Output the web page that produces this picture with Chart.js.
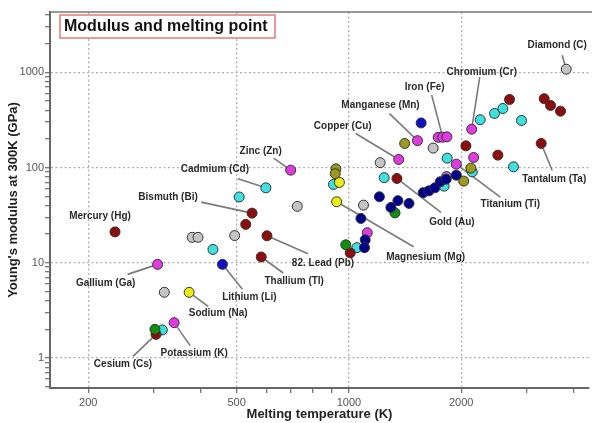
<!DOCTYPE html>
<html>
<head>
<meta charset="utf-8">
<style>
  html, body { margin: 0; padding: 0; background: #fff; }
  #wrap { width: 595px; height: 423px; }
</style>
</head>
<body>
<div id="wrap"><canvas id="chart" width="595" height="423"></canvas></div>
<script src="https://cdn.jsdelivr.net/npm/chart.js@4.4.1/dist/chart.umd.min.js"></script>
<script>
// melting point (K) against Young's modulus at 300K (GPa), one pair of arrays per marker colour
const redMelt    = [236, 550, 529, 603, 582, 304, 1008, 1345, 2059, 2508, 2695, 3338, 3471, 3692, 3277]
const redModulus = [21.1, 33.2, 25.3, 19.2, 11.5, 1.77, 12.7, 76.8, 169, 135, 518, 528, 449, 391, 179]

const grayMelt    = [3824, 727, 380, 394, 494, 320, 1094, 1213, 1682]
const grayModulus = [1078, 39.1, 18.5, 18.5, 19.3, 4.9, 40.3, 112.6, 160]

const cyanMelt    = [599, 508, 432, 316, 909, 1050, 1243, 1834, 1800, 2141, 2249, 2457, 2587, 2902, 2762]
const cyanModulus = [61.2, 49.1, 13.8, 1.97, 66.5, 14.4, 78.3, 125.5, 63.8, 90.1, 318, 370, 417, 312, 101.7]

const magentaMelt    = [698, 307, 340, 1120, 1360, 1527, 1735, 1784, 1831, 1940, 2160, 2134]
const magentaModulus = [93.9, 9.62, 2.35, 20.7, 121.6, 191.6, 207.5, 208.5, 210, 108.6, 127.6, 252.9]

const oliveMelt    = [923, 919, 1411, 2123, 2031]
const oliveModulus = [96.9, 86.3, 179, 98.6, 72]

const yellowMelt    = [373, 943, 927]
const yellowModulus = [4.89, 69.8, 43.7]

const greenMelt    = [302, 981, 1329]
const greenModulus = [2.0, 15.45, 33.4]

const navyMelt    = [1077, 1106, 1101, 1207, 1296, 1353, 1449, 1582, 1638, 1700, 1757, 1823, 1940]
const navyModulus = [29.2, 17.4, 14.4, 49.3, 38.1, 44.9, 42.0, 54.5, 56.9, 61.2, 70.8, 75.5, 83.2]

const blueMelt    = [458, 1562]
const blueModulus = [9.62, 294]

const lilacMelt    = [1827]
const lilacModulus = [80.3]

const xTicks = [200, 500, 1000, 2000]
const xMinor = [300, 400, 600, 700, 800, 900, 3000, 4000]
const yTicks = [1, 10, 100, 1000]
const yMinor = [0.5, 0.6, 0.7, 0.8, 0.9, 2, 3, 4, 5, 6, 7, 8, 9, 20, 30, 40, 50, 60, 70, 80, 90,
                200, 300, 400, 500, 600, 700, 800, 900, 2000, 3000, 4000]

// labelled elements: which marker they point at and where the text sits (px offset from the marker)
const callouts = [
  { text: 'Diamond (C)',    set: 'gray',    i: 0,  tx: -9,  ty: -24, lx: -4,  ly: -14 },
  { text: 'Chromium (Cr)',  set: 'magenta', i: 11, tx: 10,  ty: -57, lx: 8,   ly: -52 },
  { text: 'Iron (Fe)',      set: 'magenta', i: 7,  tx: -18, ty: -50, lx: -11, ly: -42 },
  { text: 'Manganese (Mn)', set: 'magenta', i: 5,  tx: -37, ty: -35, lx: -28, ly: -27 },
  { text: 'Copper (Cu)',    set: 'magenta', i: 4,  tx: -56, ty: -33, lx: -43, ly: -26 },
  { text: 'Zinc (Zn)',      set: 'magenta', i: 0,  tx: -30, ty: -19, lx: -17, ly: -12 },
  { text: 'Cadmium (Cd)',   set: 'cyan',    i: 0,  tx: -51, ty: -19, lx: -28, ly: -9 },
  { text: 'Bismuth (Bi)',   set: 'red',     i: 1,  tx: -84, ty: -16, lx: -51, ly: -11 },
  { text: 'Mercury (Hg)',   set: 'red',     i: 0,  tx: -15, ty: -16 },
  { text: '82. Lead (Pb)',  set: 'red',     i: 3,  tx: 56,  ty: 27,  lx: 41,  ly: 18 },
  { text: 'Thallium (Tl)',  set: 'red',     i: 4,  tx: 33,  ty: 24,  lx: 22,  ly: 16 },
  { text: 'Magnesium (Mg)', set: 'yellow',  i: 2,  tx: 89,  ty: 55,  lx: 77,  ly: 45 },
  { text: 'Gold (Au)',      set: 'red',     i: 7,  tx: 55,  ty: 44,  lx: 44,  ly: 34 },
  { text: 'Titanium (Ti)',  set: 'magenta', i: 9,  tx: 54,  ty: 40,  lx: 44,  ly: 33 },
  { text: 'Tantalum (Ta)',  set: 'red',     i: 14, tx: 13,  ty: 36,  lx: 11,  ly: 27 },
  { text: 'Gallium (Ga)',   set: 'magenta', i: 1,  tx: -52, ty: 19,  lx: -30, ly: 10 },
  { text: 'Lithium (Li)',   set: 'blue',    i: 0,  tx: 27,  ty: 33,  lx: 20,  ly: 25 },
  { text: 'Sodium (Na)',    set: 'yellow',  i: 0,  tx: 29,  ty: 21,  lx: 19,  ly: 14 },
  { text: 'Potassium (K)',  set: 'magenta', i: 2,  tx: 20,  ty: 31,  lx: 16,  ly: 23 },
  { text: 'Cesium (Cs)',    set: 'red',     i: 5,  tx: -33, ty: 30,  lx: -23, ly: 22 }
]

const FONT = "'Liberation Sans', Arial, sans-serif"

function pts(xs, ys) {
  return xs.map((x, i) => ({ x: x, y: ys[i] }))
}

// first entry ends up on top
const groups = [
  { key: 'blue',    color: '#1010c8', data: pts(blueMelt, blueModulus) },
  { key: 'navy',    color: '#00008a', data: pts(navyMelt, navyModulus) },
  { key: 'magenta', color: '#e03ae0', data: pts(magentaMelt, magentaModulus) },
  { key: 'lilac',   color: '#a878d8', data: pts(lilacMelt, lilacModulus) },
  { key: 'green',   color: '#0e900e', data: pts(greenMelt, greenModulus) },
  { key: 'red',     color: '#8e0c0c', data: pts(redMelt, redModulus) },
  { key: 'olive',   color: '#9c9a1c', data: pts(oliveMelt, oliveModulus) },
  { key: 'yellow',  color: '#ecec10', data: pts(yellowMelt, yellowModulus) },
  { key: 'cyan',    color: '#3ee0e0', data: pts(cyanMelt, cyanModulus) },
  { key: 'gray',    color: '#c4c4c4', data: pts(grayMelt, grayModulus) }
]

const frameAndLabels = {
  id: 'frameAndLabels',
  beforeDatasetsDraw(chart) {
    const { ctx, chartArea } = chart
    ctx.save()
    ctx.strokeStyle = '#777'
    ctx.lineWidth = 1.5
    ctx.beginPath()
    ctx.moveTo(chartArea.left, chartArea.top)
    ctx.lineTo(chartArea.right + 3, chartArea.top)
    ctx.stroke()

    ctx.strokeStyle = '#7a7a7a'
    ctx.lineWidth = 1.6
    callouts.forEach(c => {
      if (c.lx === undefined) return
      const p = this.point(chart, c)
      ctx.beginPath()
      ctx.moveTo(p.x, p.y)
      ctx.lineTo(p.x + c.lx, p.y + c.ly)
      ctx.stroke()
    })
    ctx.restore()
  },
  afterDatasetsDraw(chart) {
    const { ctx, chartArea } = chart
    ctx.save()
    ctx.font = 'bold 10px ' + FONT
    ctx.fillStyle = '#2a2a2a'
    ctx.textAlign = 'center'
    ctx.textBaseline = 'middle'
    callouts.forEach(c => {
      const p = this.point(chart, c)
      ctx.fillText(c.text, p.x + c.tx, p.y + c.ty)
    })

    // title box in the top left corner of the plot
    const bx = chartArea.left + 10, by = chartArea.top + 3
    ctx.fillStyle = '#fff'
    ctx.fillRect(bx, by, 215, 23)
    ctx.strokeStyle = '#e07a7a'
    ctx.lineWidth = 1.5
    ctx.strokeRect(bx, by, 215, 23)
    ctx.font = 'bold 16px ' + FONT
    ctx.fillStyle = '#111'
    ctx.textAlign = 'left'
    ctx.fillText('Modulus and melting point', bx + 4, by + 12)
    ctx.restore()
  },
  point(chart, c) {
    const idx = groups.findIndex(g => g.key === c.set)
    return chart.getDatasetMeta(idx).data[c.i]
  }
}

function logAxis(major, minor) {
  return scale => {
    scale.ticks = major.concat(minor).sort((a, b) => a - b).map(v => ({ value: v }))
  }
}

new Chart(document.getElementById('chart'), {
  type: 'scatter',
  data: {
    datasets: groups.map(g => ({
      label: g.key,
      data: g.data,
      backgroundColor: g.color,
      borderColor: '#333',
      borderWidth: 1,
      pointRadius: 5,
      pointHoverRadius: 5
    }))
  },
  options: {
    responsive: false,
    animation: false,
    devicePixelRatio: 1,
    layout: { padding: { top: 12, right: 0, left: 0, bottom: 0 } },
    plugins: {
      legend: { display: false },
      tooltip: { enabled: false }
    },
    scales: {
      x: {
        type: 'logarithmic',
        min: 158,
        max: 4402,
        bounds: 'data',
        afterBuildTicks: logAxis(xTicks, xMinor),
        afterFit: s => { s.height = 35 },
        ticks: {
          autoSkip: false,
          maxRotation: 0,
          padding: 3,
          color: '#555',
          font: { family: FONT, size: 11 },
          callback: v => xTicks.includes(v) ? String(v) : ''
        },
        grid: {
          color: c => c.tick && xTicks.includes(c.tick.value) ? '#b0b0b0' : 'rgba(0,0,0,0)',
          lineWidth: 1.3,
          tickColor: '#777',
          tickLength: 5
        },
        border: { color: '#666', width: 2, dash: [2, 2.5] },
        title: {
          display: true,
          text: 'Melting temperature (K)',
          color: '#222',
          font: { family: FONT, size: 13, weight: 'bold' },
          padding: { top: 0, bottom: 1 }
        }
      },
      y: {
        type: 'logarithmic',
        min: 0.484,
        max: 4300,
        bounds: 'data',
        afterBuildTicks: logAxis(yTicks, yMinor),
        afterFit: s => { s.width = 50 },
        ticks: {
          autoSkip: false,
          padding: 1,
          color: '#555',
          font: { family: FONT, size: 11 },
          callback: v => yTicks.includes(v) ? String(v) : ''
        },
        grid: {
          color: c => c.tick && yTicks.includes(c.tick.value) ? '#b0b0b0' : 'rgba(0,0,0,0)',
          lineWidth: 1.3,
          tickColor: '#777',
          tickLength: 5
        },
        border: { color: '#666', width: 2, dash: [2, 2.5] },
        title: {
          display: true,
          text: "Young's modulus at 300K (GPa)",
          color: '#222',
          font: { family: FONT, size: 13, weight: 'bold' },
          padding: { top: 6, bottom: 0 }
        }
      }
    }
  },
  plugins: [frameAndLabels]
})
</script>
</body>
</html>
